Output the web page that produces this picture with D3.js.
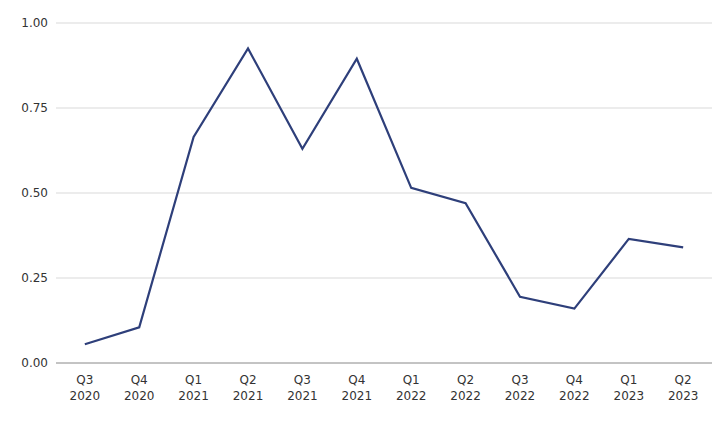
<!DOCTYPE html>
<html><head><meta charset="utf-8">
<script src="https://cdn.jsdelivr.net/npm/d3@7"></script>
<style>body{margin:0;background:#fff}text{font-family:"DejaVu Sans",sans-serif}</style>
</head><body><svg id="c" width="720" height="425"></svg>
<script>
const quarters=["Q3","Q4","Q1","Q2","Q3","Q4","Q1","Q2","Q3","Q4","Q1","Q2"];
const years=["2020","2020","2021","2021","2021","2021","2022","2022","2022","2022","2023","2023"];
const values=[0.055,0.105,0.665,0.925,0.63,0.895,0.515,0.47,0.195,0.16,0.365,0.34];
const yTicks=[0,0.25,0.5,0.75,1.0];
const svg=d3.select("#c");
const idx=d3.range(values.length);
const x=d3.scalePoint().domain(idx).range([56,712]).padding(0.53);
const y=d3.scaleLinear().domain([0,1]).range([363,23]);
const g=svg.append("g");
g.selectAll("line.g").data(yTicks).join("line")
 .attr("x1",56).attr("x2",712).attr("y1",d=>y(d)).attr("y2",d=>y(d))
 .attr("stroke",d=>d===0?"#888":"#d9d9d9").attr("stroke-width",1);
g.selectAll("text.y").data(yTicks).join("text")
 .attr("x",48).attr("y",d=>y(d)+4).attr("text-anchor","end")
 .attr("font-size",12).attr("fill","#333").text(d=>d3.format(".2f")(d));
const xl=g.selectAll("text.x").data(idx).join("text")
 .attr("text-anchor","middle").attr("font-size",12).attr("fill","#333");
xl.append("tspan").attr("x",d=>x(d)).attr("y",384).text(d=>quarters[d]);
xl.append("tspan").attr("x",d=>x(d)).attr("y",400).text(d=>years[d]);
g.append("path").datum(idx).attr("fill","none").attr("stroke","#2e3f7a").attr("stroke-width",2.2)
 .attr("d",d3.line().x(d=>x(d)).y(d=>y(values[d])));
</script></body></html>
